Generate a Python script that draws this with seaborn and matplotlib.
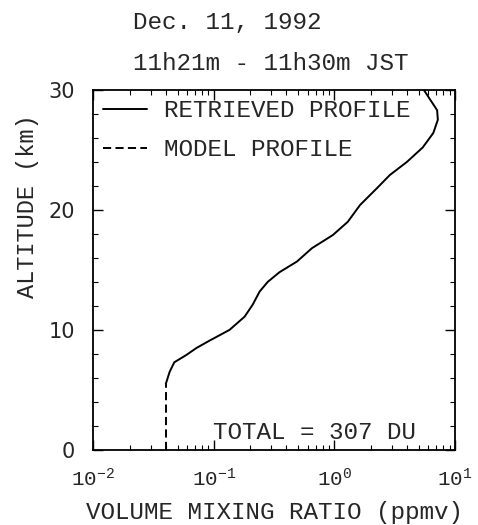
# Ozone profile: retrieved vs model volume mixing ratio
import numpy as np
import pandas as pd
import matplotlib
matplotlib.use('Agg')
import matplotlib.pyplot as plt
import matplotlib.ticker as mticker
import seaborn as sns

# values
retrieved_alt = [5.5, 6.5, 7.3, 7.9, 8.5, 9.1, 10.0, 11.1, 12.1, 13.2, 14.0, 14.8, 15.7,
                 16.8, 17.9, 19.0, 20.4, 21.8, 22.9, 24.0, 25.2, 26.4, 27.5, 28.3, 29.2, 30.0]
retrieved_vmr = [0.040, 0.043, 0.047, 0.059, 0.072, 0.092, 0.135, 0.18, 0.21, 0.24, 0.28, 0.35, 0.49,
                 0.65, 0.97, 1.29, 1.63, 2.25, 2.88, 4.0, 5.4, 6.6, 7.2, 7.1, 6.2, 5.5]
model_alt = [0.0, 2.0, 4.0, 5.5]
model_vmr = [0.040, 0.040, 0.040, 0.040]

title_date = 'Dec. 11, 1992'
title_time = '11h21m - 11h30m JST'
total_text = 'TOTAL = 307 DU'

df_ret = pd.DataFrame({'vmr': retrieved_vmr, 'alt': retrieved_alt})
df_mod = pd.DataFrame({'vmr': model_vmr, 'alt': model_alt})

sns.set_style('ticks')
plt.rcParams['font.family'] = ['Liberation Mono', 'DejaVu Sans Mono']
plt.rcParams['mathtext.fontset'] = 'custom'
plt.rcParams['mathtext.rm'] = 'Liberation Mono'

fig = plt.figure(figsize=(4.78, 5.25), dpi=100)
ax = fig.add_axes([0.195, 0.143, 0.757, 0.686])

sns.lineplot(data=df_ret, x='vmr', y='alt', sort=False, estimator=None, color='black',
             lw=1.4, ax=ax, label='RETRIEVED PROFILE')
sns.lineplot(data=df_mod, x='vmr', y='alt', sort=False, estimator=None, color='black',
             lw=1.4, dashes=False, ax=ax, label='MODEL PROFILE')
ax.lines[1].set_dashes([4.2, 2.2])

ax.set_xscale('log')
ax.set_xlim(0.01, 10)
ax.set_ylim(0, 30)
ax.yaxis.set_major_locator(mticker.MultipleLocator(10))
ax.yaxis.set_minor_locator(mticker.MultipleLocator(2))
ax.xaxis.set_minor_locator(mticker.LogLocator(base=10, subs=np.arange(2, 10)))
ax.xaxis.set_minor_formatter(mticker.NullFormatter())
ax.tick_params(which='both', direction='in', top=True, right=True, color='black')
ax.tick_params(which='major', length=7, width=1)
ax.tick_params(which='minor', length=3.5, width=0.8)
ax.tick_params(axis='x', which='major', labelsize=15, pad=13)
ax.tick_params(axis='y', which='major', labelsize=15, pad=13)
for lab in ax.get_yticklabels():
    lab.set_family('DejaVu Sans')
for s in ax.spines.values():
    s.set_linewidth(1.3)
    s.set_color('black')

ax.set_xlabel('VOLUME MIXING RATIO (ppmv)', fontsize=17.5)
ax.xaxis.set_label_coords(0.5, -0.143)
ax.set_ylabel('ALTITUDE (km)', fontsize=17)
ax.yaxis.set_label_coords(-0.15, 0.678)

fig.text(0.475, 0.958, title_date, ha='center', va='center', fontsize=17.5)
fig.text(0.566, 0.880, title_time, ha='center', va='center', fontsize=17.5)
ax.text(0.612, 0.047, total_text, transform=ax.transAxes, ha='center', va='center', fontsize=17.5)

leg = ax.legend(loc='upper left', frameon=False, fontsize=17.5, handlelength=1.8,
                handletextpad=0.7, borderaxespad=0.0, labelspacing=0.65)

fig.savefig('out.png', dpi=100)
